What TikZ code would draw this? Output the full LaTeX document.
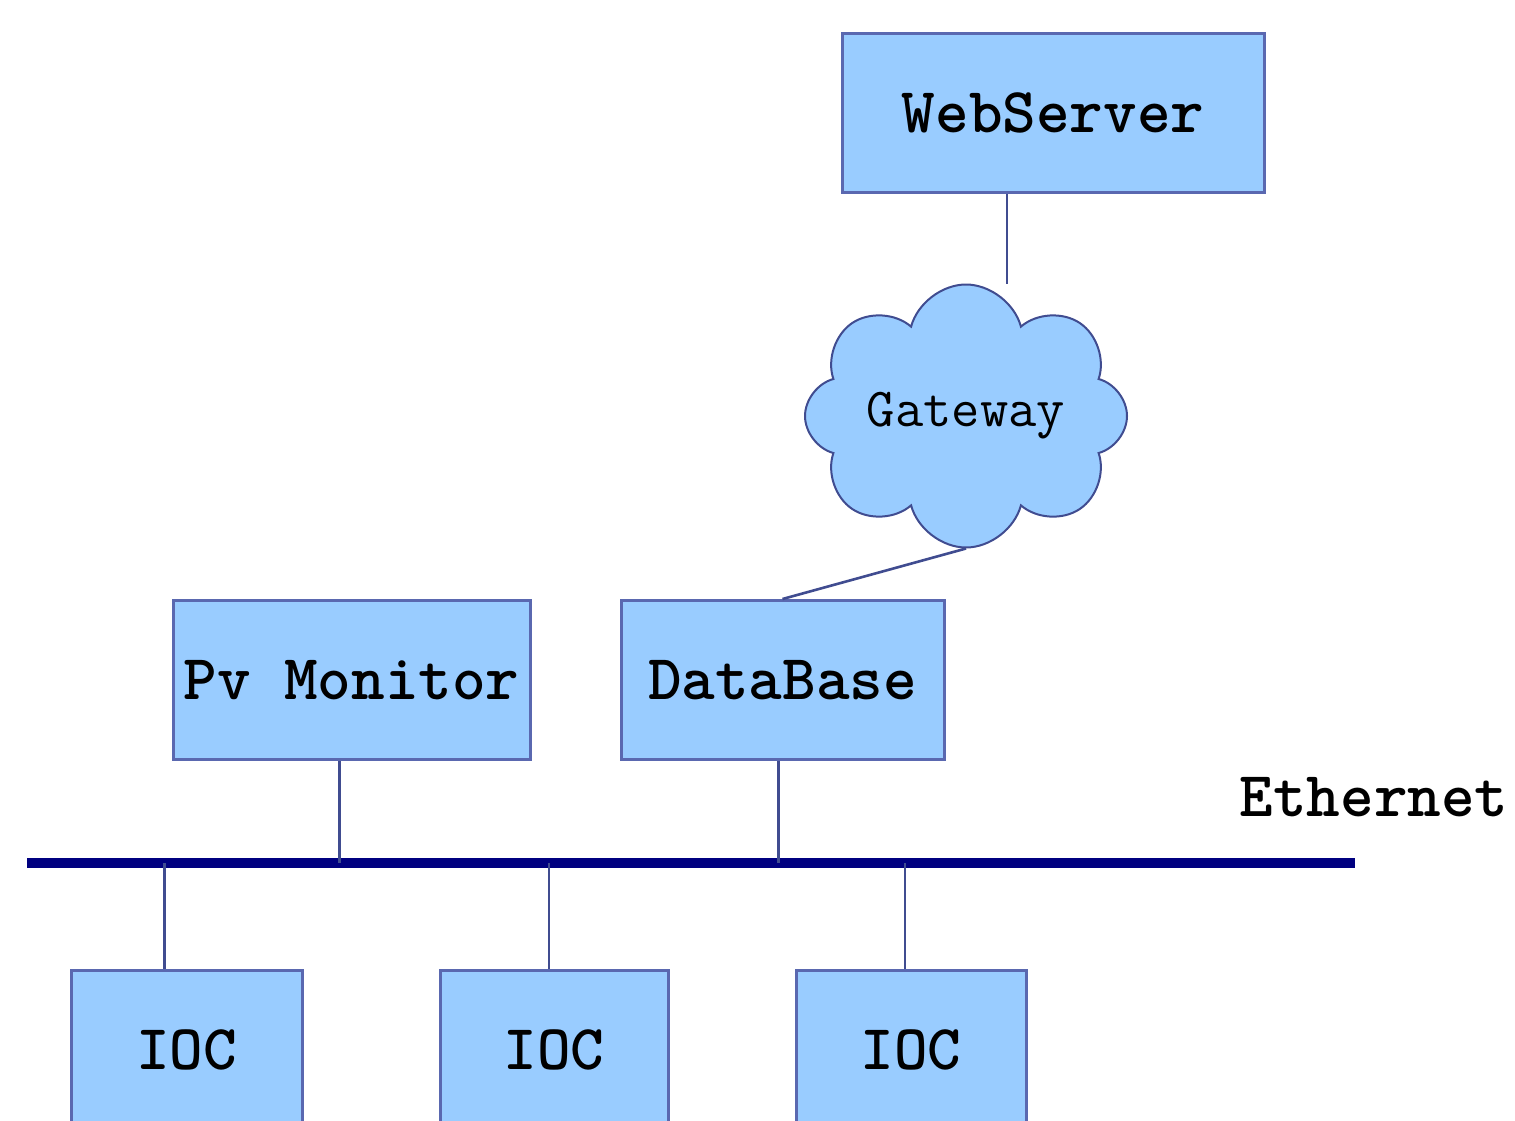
\documentclass[tikz,border=0pt]{standalone}
\usetikzlibrary{shapes.symbols,calc}
\definecolor{boxblue}{HTML}{99CCFF}
\definecolor{edgeblue}{HTML}{5A68B0}
\definecolor{wireblue}{HTML}{404C90}
\definecolor{busnavy}{HTML}{000080}

\begin{document}
\begin{tikzpicture}[x=0.5pt,y=-0.5pt,
    unit/.style={draw=edgeblue,fill=boxblue,line width=1.5pt,inner sep=0pt,
      minimum height=79.5pt,font=\fontsize{32}{36}\selectfont\ttfamily\bfseries},
    wire/.style={draw=wireblue,line width=1.3pt},
    bus/.style={draw=busnavy,line width=5pt}]
                \useasboundingbox (0,0) rectangle (1515,1120);
                \clip (0,0) rectangle (1515,1120);
                \node[unit,minimum width=211pt] (web) at (1053,112.5) {WebServer};
                \node[cloud,cloud puffs=8,cloud ignores aspect,draw=wireblue,fill=boxblue,line width=1pt,
                  inner sep=0pt,minimum width=161pt,minimum height=131.5pt,
                  font=\fontsize{27.5}{30}\selectfont\ttfamily] (gw) at (966,416) {Gateway};
                \node[unit,minimum width=178.5pt] (pvmon) at (351.5,680) {Pv Monitor};
                \node[unit,minimum width=161.5pt] (db) at (782.5,680) {DataBase};
                \node[font=\fontsize{32}{36}\selectfont\ttfamily\bfseries] (eth) at (1374,797) {Ethernet};
                \node[unit,minimum width=115.5pt] (ioc1) at (186.5,1049.5) {IOC};
                \node[unit,minimum width=114pt] (ioc2) at (554,1049.5) {IOC};
                \node[unit,minimum width=115pt] (ioc3) at (911,1049.5) {IOC};
                \coordinate (busL) at (27,863);
                \coordinate (busR) at (1355,863);
                \draw[bus] (busL) -- (busR);
                \draw[wire] ([xshift=-23pt]web.south) -- ([xshift=-23pt]web.south |- gw.north);
                \draw[wire] (gw.south) -- (db.north);
                \draw[wire] ([xshift=-6pt]pvmon.south) -- ([xshift=-6pt]pvmon.south |- busL);
                \draw[wire] ([xshift=-2pt]db.south) -- ([xshift=-2pt]db.south |- busL);
                \draw[wire] ([xshift=-11pt]ioc1.north) -- ([xshift=-11pt]ioc1.north |- busL);
                \draw[wire] ([xshift=-2.5pt]ioc2.north) -- ([xshift=-2.5pt]ioc2.north |- busL);
                \draw[wire] ([xshift=-3pt]ioc3.north) -- ([xshift=-3pt]ioc3.north |- busL);
            \end{tikzpicture}
\end{document}
